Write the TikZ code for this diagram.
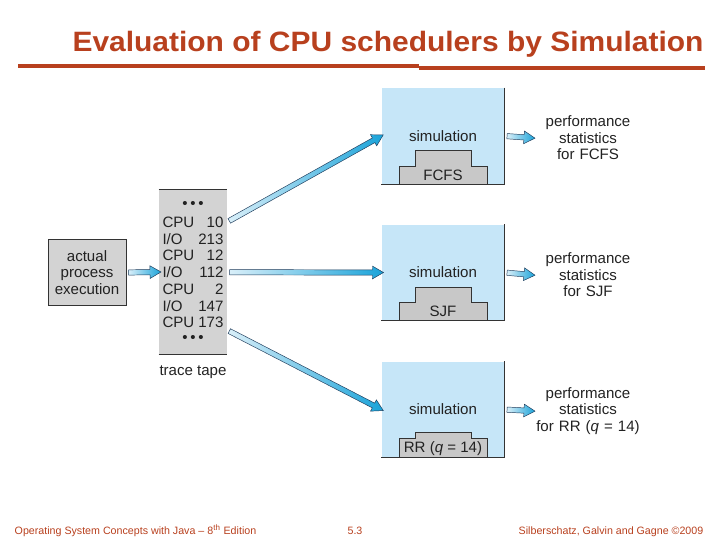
\documentclass[tikz,border=0pt]{standalone}
\usepackage{fontspec}
\setmainfont{Liberation Sans}
\usetikzlibrary{arrows.meta, positioning, calc, shapes.arrows}
\definecolor{evrust}{HTML}{B8401E}
\definecolor{evblue}{HTML}{C6E6F8}
\definecolor{evgray}{HTML}{D3D3D3}
\definecolor{evstep}{HTML}{C8C8C8}
\definecolor{evedge}{HTML}{333333}
\definecolor{evpale}{HTML}{D9EFF9}
\definecolor{evcyan}{HTML}{1AA3D9}
\definecolor{evnavy}{HTML}{1F3B5A}
\definecolor{evtext}{HTML}{222222}

\newcommand{\flowarrow}[3]{%
  \path let \p1=($(#3)-(#2)$), \n1={atan2(\y1,\x1)}, \n2={veclen(\x1,\y1)} in
    node[flow, minimum height=\n2, rotate=\n1] (#1) at ($(#2)!0.5!(#3)$) {};}

\begin{document}
\begin{tikzpicture}[x=0.75pt, y=-0.75pt,
  every node/.style={font=\fontsize{11.3}{12.4}\selectfont, text=evtext},
  box/.style={rectangle, fill=evgray, draw=evedge, line width=0.6pt, minimum width=58.5pt, minimum height=50pt, align=center, inner sep=0pt},
  tape/.style={rectangle, fill=evgray, minimum width=51pt, minimum height=123pt},
  simbox/.style={rectangle, fill=evblue, minimum width=92.25pt, minimum height=72pt, inner sep=0pt},
  stepblk/.style={fill=evstep, draw=evedge, line width=0.6pt},
  stats/.style={align=center, text width=82.5pt, inner xsep=0pt},
  edge/.style={draw=evedge, line width=0.7pt},
  flow/.style={single arrow, left color=evpale, right color=evcyan, draw=evnavy, line width=0.35pt, inner sep=0.3pt, text height=3pt, text depth=0pt, single arrow head extend=2.8pt, single arrow tip angle=60},
  foot/.style={font=\fontsize{8}{9}\selectfont, text=evrust},
]
\useasboundingbox (0,0) rectangle (720,540);

% Title
\node[font=\fontsize{21}{24}\selectfont\bfseries, text=evrust, anchor=base] (title) at (388,51) {\scalebox{1.07}[1]{Evaluation of CPU schedulers by Simulation}};
\draw[evrust, line width=3.2pt] (18,66) -- (419,66);
\draw[evrust, line width=3.2pt] (419,68) -- (705,68);

% Process and trace tape
\node[box] (act) at (87,272.5) {actual\\process\\execution};
\node[tape] (tape) at (193,272) {};
\draw[edge] (tape.north west) -- (tape.north east);
\draw[edge] (tape.south west) -- (tape.south east);
\foreach \txt [count=\i] in {{•\hspace{2pt}•\hspace{2pt}•}, {CPU\hfill 10}, {I/O\hfill 213}, {CPU\hfill 12}, {I/O\hfill 112}, {CPU\hfill 2}, {I/O\hfill 147}, {CPU\hfill 173}, {•\hspace{2pt}•\hspace{2pt}•}}
  \node[inner sep=0pt] (row\i) at (193, 188.5+16.75*\i) {\makebox[45.75pt]{\txt}};
\node (tapelbl) at (193,372) {trace tape};

% Simulators
\node[simbox] (sim1) at (443,136) {simulation};
\node[simbox] (sim2) at (443,272.5) {simulation};
\node[simbox] (sim3) at (443,409.5) {simulation};
\foreach \s/\hi/\lo/\lab in {sim1/16/18/FCFS, sim2/15/18/SJF, sim3/6/19/{RR (\textit{q} = 14)}} {
  \draw[stepblk] ($(\s.south)+(-43.5,0)$) -- ++(0,-\lo) -- ++(16,0) -- ++(0,-\hi) -- ++(56,0) -- ++(0,\hi) -- ++(15.5,0) -- ++(0,\lo);
  \draw[edge] (\s.north east) -- (\s.south east) -- (\s.south west);
  \node (lab-\s) at ($(\s.south)+(0,-9)$) {\lab};
}

% Results
\node[stats] (st1) at (588,138) {performance\\statistics\\for FCFS};
\node[stats] (st2) at (588,275) {performance\\statistics\\for SJF};
\node[stats] (st3) at (588,411) {performance\\statistics\\for RR (\textit{q} = 14)};

% Arrows
\coordinate (t1) at (tape.east |- row2);
\coordinate (t2) at (tape.east |- row5);
\coordinate (m3) at ($(row8)!0.45!(row9)$);
\coordinate (t3) at (tape.east |- m3);
\flowarrow{a0}{act.east}{tape.west}
\flowarrow{a1}{t1}{sim1.west}
\flowarrow{a2}{t2}{sim2.west}
\flowarrow{a3}{t3}{sim3.west}
\flowarrow{b1}{sim1.east}{st1.west}
\flowarrow{b2}{sim2.east}{st2.west}
\flowarrow{b3}{sim3.east}{st3.west}

% Footer
\node[foot, anchor=base west] (ft1) at (10,534) {Operating System Concepts with Java -- 8\textsuperscript{th} Edition};
\node[foot, anchor=base] (ft2) at (355,534) {5.3};
\node[foot, anchor=base east] (ft3) at (708,534) {Silberschatz, Galvin and Gagne \textcopyright 2009};
\end{tikzpicture}
\end{document}
